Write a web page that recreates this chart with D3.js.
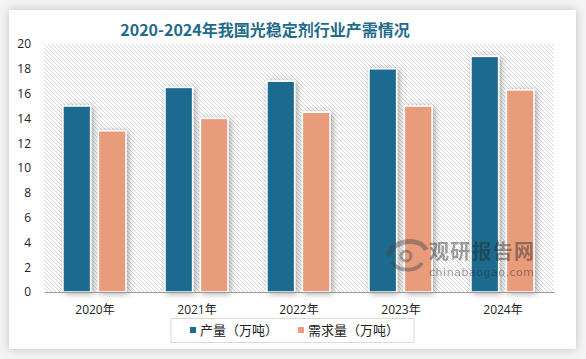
<!DOCTYPE html>
<html><head><meta charset="utf-8">
<script src="https://cdn.jsdelivr.net/npm/d3@7"></script>
<style>html,body{margin:0;padding:0;background:#fff;}svg{display:block;}</style>
</head><body>
<script>
const categories = ["2020年","2021年","2022年","2023年","2024年"];
const production = [15, 16.5, 17, 18, 19];
const demand = [13, 14, 14.5, 15, 16.3];
const seriesNames = ["产量（万吨）","需求量（万吨）"];
const seriesColors = ["#1d6b8e","#e89c7c"];
const yTicks = [0,2,4,6,8,10,12,14,16,18,20];
const title = "2020-2024年我国光稳定剂行业产需情况";

const W = 586, H = 359;
const svg = d3.select("body").append("svg").attr("width", W).attr("height", H);
const defs = svg.append("defs");

const cs = defs.append("filter").attr("id","cardShadow").attr("x","-10%").attr("y","-10%").attr("width","120%").attr("height","120%");
cs.append("feDropShadow").attr("dx",0).attr("dy",0).attr("stdDeviation",5).attr("flood-color","#000").attr("flood-opacity",0.22);

const bs = defs.append("filter").attr("id","barShadow").attr("x","-50%").attr("y","-20%").attr("width","200%").attr("height","140%");
bs.append("feDropShadow").attr("dx",2).attr("dy",1).attr("stdDeviation",3).attr("flood-color","#000").attr("flood-opacity",0.35);

const pat = defs.append("pattern").attr("id","hatch").attr("patternUnits","userSpaceOnUse").attr("width",4).attr("height",4);
pat.append("rect").attr("width",4).attr("height",4).attr("fill","#fff");
pat.append("path").attr("d","M-1,-1 L5,5 M-1,3 L1,5 M3,-1 L5,1").attr("stroke","#d9d9d9").attr("stroke-width",1);

svg.append("rect").attr("width",W).attr("height",H).attr("fill","#f4f4f4");
svg.append("rect").attr("x",9).attr("y",10).attr("width",567).attr("height",339).attr("fill","#fff").attr("filter","url(#cardShadow)");

svg.append("text").attr("x",265).attr("y",36).attr("text-anchor","middle")
  .attr("font-family","'Noto Sans CJK SC', sans-serif").attr("font-weight","bold").attr("font-size",16)
  .attr("fill","#1f6b8c").text(title);

const pLeft = 44, pRight = 554, pTop = 44, pBottom = 292;
const x = d3.scaleBand().domain(categories).range([pLeft,pRight]).padding(0);
const x1 = d3.scaleBand().domain([0,1]).range([19,82]).paddingInner(0.22);
const y = d3.scaleLinear().domain([0,20]).range([pBottom,pTop]);

svg.append("rect").attr("x",pLeft).attr("y",pTop).attr("width",pRight-pLeft).attr("height",pBottom-pTop).attr("fill","url(#hatch)");

const data = categories.map((c,i)=>({c, vals:[production[i], demand[i]]}));
const g = svg.append("g");
data.forEach(d=>{
  d.vals.forEach((v,k)=>{
    g.append("rect")
      .attr("x", x(d.c)+x1(k)).attr("y", y(v))
      .attr("width", x1.bandwidth()).attr("height", y(0)-y(v))
      .attr("fill", seriesColors[k]).attr("stroke","#fff").attr("stroke-width",1.5)
      .attr("filter","url(#barShadow)");
  });
});

// watermark (on top of bars)
const wm = svg.append("g").attr("opacity",0.42);
wm.append("path").attr("d","M388,256 C392,240 420,236 426,250").attr("fill","none").attr("stroke","#444").attr("stroke-width",5);
wm.append("path").attr("d","M392,262 C398,272 416,272 422,263").attr("fill","none").attr("stroke","#444").attr("stroke-width",4);
wm.append("circle").attr("cx",406).attr("cy",256).attr("r",5).attr("fill","none").attr("stroke","#444").attr("stroke-width",3);
wm.append("text").attr("x",429).attr("y",259).attr("font-family","'Noto Sans CJK SC', sans-serif").attr("font-weight","bold").attr("font-size",20).attr("textLength",105).attr("fill","#222").text("观研报告网");
wm.append("text").attr("x",429).attr("y",276).attr("font-family","'DejaVu Sans', sans-serif").attr("font-size",11).attr("textLength",105).attr("fill","#222").text("chinabaogao.com");

const ya = svg.append("g").attr("transform",`translate(${pLeft},0)`)
  .call(d3.axisLeft(y).tickValues(yTicks).tickSize(0).tickPadding(13));
ya.select(".domain").remove();
ya.selectAll("text").attr("font-family","'Open Sans', sans-serif").attr("font-size",12).attr("fill","#222");

const xa = svg.append("g").attr("transform",`translate(0,${pBottom})`)
  .call(d3.axisBottom(x).tickSize(0).tickPadding(13));
xa.select(".domain").attr("stroke","#999").attr("stroke-width",1.2);
xa.selectAll("text").attr("font-family","'Open Sans', 'Noto Sans CJK SC', sans-serif").attr("font-size",12).attr("fill","#222");

// legend
const lg = svg.append("g");
lg.append("rect").attr("x",171).attr("y",318.5).attr("width",243).attr("height",24).attr("fill","#fff").attr("stroke","#d9d9d9");
const lx = [190, 298];
seriesNames.forEach((n,k)=>{
  lg.append("rect").attr("x",lx[k]).attr("y",327).attr("width",6).attr("height",6).attr("fill",seriesColors[k]);
  lg.append("text").attr("x",lx[k]+10).attr("y",335).attr("font-family","'Noto Sans CJK SC', sans-serif").attr("font-size",13).attr("fill","#222").text(n);
});
</script>
</body></html>
